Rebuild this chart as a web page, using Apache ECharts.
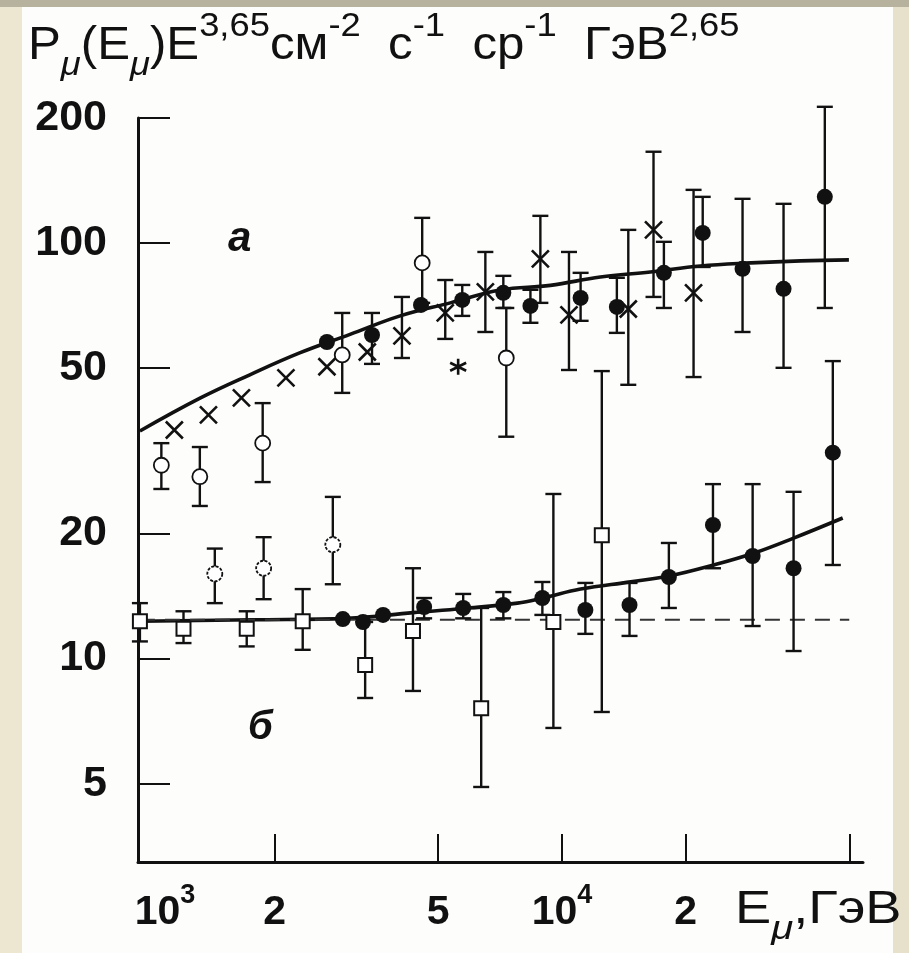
<!DOCTYPE html>
<html><head><meta charset="utf-8">
<script src="https://cdn.jsdelivr.net/npm/echarts@6/dist/echarts.min.js"></script>
<style>html,body{margin:0;padding:0;background:#fff}#c{width:909px;height:953px}</style>
</head><body><div id="c"></div>
<script>
// ---------- data ----------
const curveA_E = [940,1320,1740,2300,3050,4040,5350,7080,9370,12400,16400,21700,28800,38100,49900];
const curveA_V = [35.3,42.4,48.2,54.4,60.3,66.8,71.8,77.1,79.1,82.9,85.2,88.1,89.6,90.6,91.1];
const curveB_E = [940,1770,3000,4340,5750,7790,9010,11100,14700,18200,23400,29100,36600,48200];
const curveB_V = [12.3,12.4,12.5,12.9,13.2,13.6,14.0,14.7,15.3,15.8,16.8,17.9,19.5,21.8];
const dashB_E = [940,50000];
const dashB_V = [12.4,12.4];

const cross_E  = [1140,1380,1660,2130,2680,3360,4080,5200,6510,8860,10400,14500,16700,20900];
const cross_V  = [35.5,38.6,42.4,47.4,50.4,54.7,59.8,67.9,76.3,91.6,67.2,69.4,107.6,75.9];
const cross_Lo = [null,null,null,null,null,null,52.9,58.8,61.1,71.8,49.5,45.6,74.2,47.6];
const cross_Hi = [null,null,null,null,null,null,74.2,81.5,95.2,116.3,95.2,107.6,165.9,134.3];

const star_E = [5590];
const star_V = [50.4];

const fillA_E  = [2680,3450,4540,5720,7200,8380,11100,13600,17700,22000,27500,34600,43600];
const fillA_V  = [57.8,60.1,71.0,73.0,75.9,70.6,73.8,70.2,84.8,105.8,86.7,77.6,129.2];
const fillA_Lo = [null,51.2,null,66.8,69.8,64.3,65.0,60.8,69.8,87.6,61.1,50.1,69.8];
const fillA_Hi = [null,67.9,null,79.3,83.4,77.2,84.8,82.5,100.7,129.2,127.8,124.3,212.8];

const openA_E  = [1060,1315,1870,2920,4570,7320];
const openA_V  = [29.2,27.4,33.0,53.8,89.6,52.9];
const openA_Lo = [25.6,23.3,26.6,43.6,71.8,34.2];
const openA_Hi = [33.0,32.3,41.2,67.9,115.0,69.8];

const openM_E  = [1430,1880,2770];
const openM_V  = [16.0,16.5,18.8];
const openM_Lo = [13.6,13.9,15.1];
const openM_Hi = [18.4,19.6,24.5];

const sq_E  = [940,1200,1710,2340,3320,4340,6360,9530,12500];
const sq_V  = [12.3,11.8,11.8,12.3,9.65,11.65,7.60,12.25,19.8];
const sq_Lo = [11.0,10.9,10.7,10.5,8.04,8.36,4.91,6.81,7.44];
const sq_Hi = [13.6,13.0,13.0,14.7,12.25,16.5,13.24,24.9,49.2];

const fillB_E  = [2930,3280,3670,4620,5750,7200,8960,11400,14600,18200,23300,29100,36600,45600];
const fillB_V  = [12.45,12.25,12.74,13.31,13.24,13.46,13.99,13.09,13.46,15.72,20.97,17.66,16.5,31.3];
const fillB_Lo = [null,null,null,12.5,12.5,12.5,12.74,11.47,11.34,13.24,16.5,11.98,10.43,16.8];
const fillB_Hi = [null,null,null,13.99,14.31,14.46,15.29,15.21,15.21,18.98,26.3,26.3,25.2,52.0];

const yTicks = [5,10,20,50,100,200];
const xTicks = [2000,5000,10000,20000,50000];
const xLabelVals = [1000,2000,5000,10000,20000];
const xLabelText = {1000:'{bl|10}{s|3}',2000:'{b|2}',5000:'{b|5}',10000:'{b|10}{s|4}',20000:'{b|2}'};
const yTitleText = '{b|P}{u|μ}{b|(E}{u|μ}{b|)E}{s|3,65}{b|см}{s|-2}{b|  с}{s|-1}{b|  ср}{s|-1}{b|  ГэВ}{s|2,65}';
const xTitleText = '{b|E}{u|μ}{b|,ГэВ}';

// ---------- helpers ----------
const pairs = (E,V) => E.map((e,i)=>[e,V[i]]);
const errs = [];
[[cross_E,cross_Lo,cross_Hi],[fillA_E,fillA_Lo,fillA_Hi],[openA_E,openA_Lo,openA_Hi],
 [openM_E,openM_Lo,openM_Hi],[sq_E,sq_Lo,sq_Hi],[fillB_E,fillB_Lo,fillB_Hi]].forEach(([E,L,H])=>{
  E.forEach((e,i)=>{ if(L[i]!=null && H[i]!=null) errs.push([e,L[i],H[i]]); });
});

const INK = '#111';
const FONT = '"Liberation Sans", Arial, sans-serif';

function renderErr(params, api){
  const x = api.value(0), lo = api.value(1), hi = api.value(2);
  const a = api.coord([x, lo]), b = api.coord([x, hi]);
  const c = 8, st = {stroke: INK, lineWidth: 2.4};
  return {type:'group', children:[
    {type:'line', shape:{x1:a[0],y1:a[1],x2:b[0],y2:b[1]}, style:st},
    {type:'line', shape:{x1:a[0]-c,y1:a[1],x2:a[0]+c,y2:a[1]}, style:st},
    {type:'line', shape:{x1:b[0]-c,y1:b[1],x2:b[0]+c,y2:b[1]}, style:st}
  ]};
}

const richTitle = {
  b: {fontFamily: FONT, fontSize: 46, fontWeight:'normal', fill: INK, lineHeight: 50, padding:[18,0,0,0], verticalAlign:'top'},
  s: {fontFamily: FONT, fontSize: 34, fontWeight:'normal', fill: INK, lineHeight: 36, padding:[5,0,0,0], verticalAlign:'top'},
  u: {fontFamily: FONT, fontSize: 34, fontStyle:'italic', fontWeight:'normal', fill: INK, lineHeight: 36, padding:[44,0,0,0], verticalAlign:'top'}
};

const chart = echarts.init(document.getElementById('c'), null, {renderer:'canvas'});
chart.setOption({
  animation: false,
  backgroundColor: '#fdfdfc',
  graphic: [
    {type:'rect', z:-10, left:0, top:0, shape:{width:22, height:953}, style:{fill:'#ede7d1'}},
    {type:'rect', z:-10, left:893, top:0, shape:{width:16, height:953}, style:{fill:'#e7e1cb'}},
    {type:'rect', z:-10, left:0, top:0, shape:{width:909, height:7}, style:{fill:'#b7b29d'}},
    {type:'text', x:28, y:5, scaleX:1.07, style:{text: yTitleText, rich: richTitle, fill: INK}},
    {type:'text', x:735, y:869, scaleX:1.18, style:{text: xTitleText, rich: richTitle, fill: INK}},
    {type:'text', left:228, top:218, style:{text:'а', font:'italic bold 42px '+FONT, fill:INK}},
    {type:'text', left:248, top:708, style:{text:'б', font:'italic bold 40px '+FONT, fill:INK}}
  ],
  grid: {left:138, right:46, top:118, bottom:91, containLabel:false, outerBoundsMode:'none'},
  xAxis: {
    type:'log', min:930, max:54000,
    axisLine:{lineStyle:{color:INK, width:3}},
    axisTick:{inside:true, length:28, lineStyle:{color:INK, width:2}, customValues: xTicks},
    axisLabel:{customValues: xLabelVals, margin:20, formatter: v => xLabelText[Math.round(v)] || '',
      rich:{b:{fontFamily:FONT, fontSize:41, fontWeight:'bold', color:INK, lineHeight:44, padding:[10,0,0,0], verticalAlign:'top'},
            bl:{fontFamily:FONT, fontSize:41, fontWeight:'bold', color:INK, lineHeight:44, padding:[10,0,0,28], verticalAlign:'top'},
            s:{fontFamily:FONT, fontSize:27, fontWeight:'bold', color:INK, lineHeight:28, verticalAlign:'top'}}},
    splitLine:{show:false}, minorTick:{show:false}
  },
  yAxis: {
    type:'log', min:3.24, max:200,
    axisLine:{lineStyle:{color:INK, width:3}},
    axisTick:{inside:true, length:32, lineStyle:{color:INK, width:2}, customValues: yTicks},
    axisLabel:{customValues: yTicks, margin:31, fontFamily:FONT, fontSize:43, fontWeight:'bold', color:INK,
      formatter: v => String(Math.round(v))},
    splitLine:{show:false}, minorTick:{show:false}
  },
  series: [
    {type:'line', data: pairs(curveA_E, curveA_V), smooth:0.4, symbol:'none', z:1,
     lineStyle:{color:INK, width:3.6}},
    {type:'line', data: pairs(curveB_E, curveB_V), smooth:0.4, symbol:'none', z:1,
     lineStyle:{color:INK, width:3.6}},
    {type:'line', data: pairs(dashB_E, dashB_V), symbol:'none', z:1,
     lineStyle:{color:'#333', width:2, type:[15,10]}},
    {type:'custom', data: errs, renderItem: renderErr, encode:{x:0, y:[1,2]}, z:2, clip:false},
    {type:'scatter', data: pairs(cross_E, cross_V), z:3, symbol:'path://M0,0L10,10M10,0L0,10', symbolSize:17,
     itemStyle:{color:'none', borderColor:INK, borderWidth:2.6, opacity:1}},
    {type:'scatter', data: pairs(star_E, star_V), z:3, symbol:'path://M5,0L5,10M0.7,2.5L9.3,7.5M0.7,7.5L9.3,2.5', symbolSize:16,
     itemStyle:{color:'none', borderColor:INK, borderWidth:2.6, opacity:1}},
    {type:'scatter', data: pairs(openA_E, openA_V), z:3, symbol:'circle', symbolSize:15,
     itemStyle:{color:'#fff', borderColor:INK, borderWidth:1.8, opacity:1}},
    {type:'scatter', data: pairs(openM_E, openM_V), z:3, symbol:'circle', symbolSize:15,
     itemStyle:{color:'#fff', borderColor:INK, borderWidth:1.8, borderType:[3,1.5], opacity:1}},
    {type:'scatter', data: pairs(sq_E, sq_V), z:3, symbol:'rect', symbolSize:14,
     itemStyle:{color:'#fff', borderColor:INK, borderWidth:2, opacity:1}},
    {type:'scatter', data: pairs(fillA_E, fillA_V), z:3, symbol:'circle', symbolSize:16,
     itemStyle:{color:INK, opacity:1}},
    {type:'scatter', data: pairs(fillB_E, fillB_V), z:3, symbol:'circle', symbolSize:16,
     itemStyle:{color:INK, opacity:1}}
  ]
});
</script></body></html>
